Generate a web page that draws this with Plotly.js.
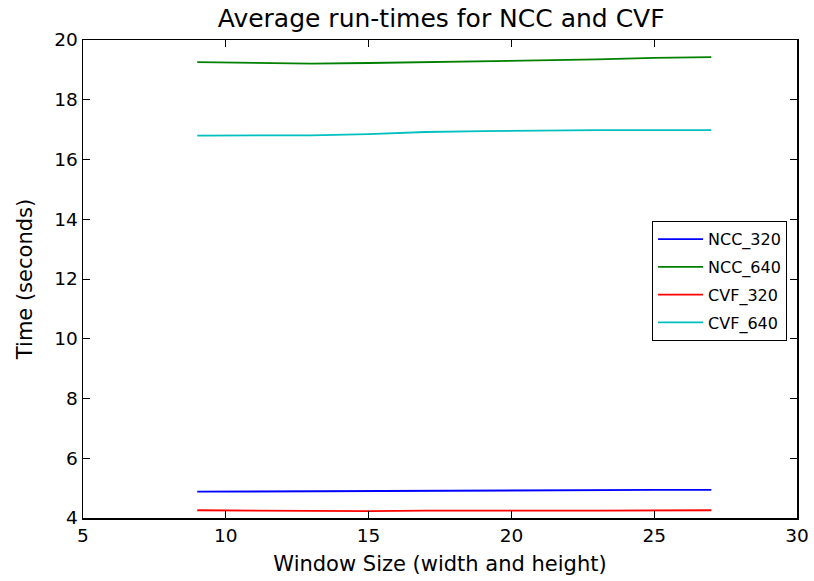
<!DOCTYPE html>
<html>
<head>
<meta charset="utf-8">
<script src="https://cdn.plot.ly/plotly-3.0.1.min.js"></script>
<style>html,body{margin:0;padding:0;background:#fff;}#chart{width:814px;height:581px;}</style>
</head>
<body>
<div id="chart"></div>
<script>
const windowSizes = [9, 11, 13, 15, 17, 19, 21, 23, 25, 27];
const ncc320 = [4.88, 4.89, 4.89, 4.90, 4.91, 4.92, 4.92, 4.93, 4.94, 4.94];
const ncc640 = [19.26, 19.24, 19.21, 19.23, 19.26, 19.28, 19.31, 19.35, 19.40, 19.43];
const cvf320 = [4.26, 4.25, 4.24, 4.23, 4.25, 4.26, 4.25, 4.25, 4.26, 4.26];
const cvf640 = [16.80, 16.80, 16.81, 16.85, 16.92, 16.95, 16.97, 16.98, 16.98, 16.98];
const seriesNames = ["NCC_320", "NCC_640", "CVF_320", "CVF_640"];
const seriesColors = ["#0000ff", "#008000", "#ff0000", "#00bfbf"];
const seriesValues = [ncc320, ncc640, cvf320, cvf640];

const traces = seriesValues.map((vals, i) => ({
  x: windowSizes, y: vals, type: "scatter", mode: "lines", name: seriesNames[i],
  legendgroup: "g" + i,
  line: {color: seriesColors[i], width: 1.8}
}));

const axisCommon = {
  showline: true, linecolor: "#000", linewidth: 1.5, mirror: "ticks",
  ticks: "inside", ticklen: 7, tickcolor: "#000", tickwidth: 1,
  showgrid: false, zeroline: false,
  tickfont: {family: "DejaVu Sans", size: 18.5, color: "#000"}
};

const layout = {
  width: 814, height: 581,
  margin: {l: 83, r: 17, t: 40, b: 63},
  paper_bgcolor: "#fff", plot_bgcolor: "#fff",
  font: {family: "DejaVu Sans", color: "#000"},
  title: {text: "Average run-times for NCC and CVF", font: {family: "DejaVu Sans", size: 25, color: "#000"}, x: 0.542, xanchor: "center", y: 0.984, yanchor: "top"},
  xaxis: Object.assign({}, axisCommon, {range: [5, 30], tickvals: [5, 10, 15, 20, 25, 30],
    title: {text: "Window Size (width and height)", font: {family: "DejaVu Sans", size: 21, color: "#000"}, standoff: 11}}),
  yaxis: Object.assign({}, axisCommon, {range: [4, 20], tickvals: [4, 6, 8, 10, 12, 14, 16, 18, 20],
    title: {text: "Time (seconds)", font: {family: "DejaVu Sans", size: 21, color: "#000"}, standoff: 16}}),
  showlegend: true,
  legend: {x: 0.797, y: 0.621, xanchor: "left", yanchor: "top", bgcolor: "#fff", bordercolor: "#000", borderwidth: 1,
    font: {family: "DejaVu Sans", size: 16, color: "#000"}, traceorder: "grouped", tracegroupgap: 4, itemwidth: 45}
};

Plotly.newPlot("chart", traces, layout, {displayModeBar: false, staticPlot: true});
</script>
</body>
</html>
